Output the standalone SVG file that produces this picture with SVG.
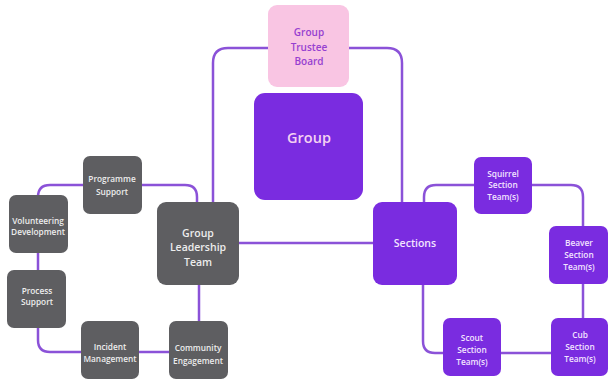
<svg xmlns="http://www.w3.org/2000/svg" width="613" height="382" viewBox="0 0 613 382">
  <style>
    .line { fill: none; stroke: #8B52D8; stroke-width: 2.5; }
    .grey { fill: #5E5E61; }
    .purple { fill: #7A2CE0; }
    .pink { fill: #F9C5E3; }
    text { font-family: "Open Sans", "Liberation Sans", sans-serif; font-weight: 600; text-anchor: middle; }
    .tg { fill: #EDEDED; }
    .tp { fill: #F3E4FF; }
    .tk { fill: #9640D0; font-size: 10px; }
    .s { font-size: 8.3px; }
    .m { font-size: 10.5px; }
    .l { font-size: 14.5px; fill: #F4D2F2; }
  </style>
  <rect width="613" height="382" fill="#FFFFFF"/>

  <g id="connectors">
    <!-- trustee board to leadership team and sections -->
    <path class="line" d="M268,48 H228 Q213,48 213,63 V202"/>
    <path class="line" d="M349,48 H387 Q402,48 402,63 V202"/>
    <!-- leadership team to sections -->
    <path class="line" d="M239,243 H373"/>
    <!-- leadership ring -->
    <path class="line" d="M83,185 H50 Q38,185 38,197"/>
    <path class="line" d="M142,185 H185 Q197,185 197,197 V202"/>
    <path class="line" d="M38,253 V270"/>
    <path class="line" d="M38,328 V340 Q38,352 50,352 H81"/>
    <path class="line" d="M139,352 H169"/>
    <path class="line" d="M199,285 V321"/>
    <!-- sections ring -->
    <path class="line" d="M474,185 H436 Q424,185 424,197 V202"/>
    <path class="line" d="M532,185 H571 Q583,185 583,197 V226"/>
    <path class="line" d="M583,284 V318"/>
    <path class="line" d="M551,353 H501"/>
    <path class="line" d="M423,285 V341 Q423,353 435,353 H443"/>
  </g>

  <g id="trustee-board">
    <rect class="pink" x="268" y="5" width="81" height="82" rx="9"/>
    <text class="tk" x="309" y="36">Group</text>
    <text class="tk" x="309" y="51">Trustee</text>
    <text class="tk" x="309" y="65">Board</text>
  </g>

  <g id="group">
    <rect class="purple" x="254" y="93" width="109" height="107" rx="11"/>
    <text class="l" x="309" y="143">Group</text>
  </g>

  <g id="leadership-team">
    <rect class="grey" x="157" y="202" width="82" height="83" rx="9"/>
    <text class="tg m" x="198" y="236.5">Group</text>
    <text class="tg m" x="198" y="251">Leadership</text>
    <text class="tg m" x="198" y="265.5">Team</text>
  </g>

  <g id="sections">
    <rect class="purple" x="373" y="202" width="84" height="83" rx="9"/>
    <text class="tp m" x="415" y="247">Sections</text>
  </g>

  <g id="programme-support">
    <rect class="grey" x="83" y="156" width="59" height="58" rx="7"/>
    <text class="tg s" x="112" y="182">Programme</text>
    <text class="tg s" x="112" y="195">Support</text>
  </g>

  <g id="volunteering-development">
    <rect class="grey" x="9" y="195" width="59" height="58" rx="7"/>
    <text class="tg s" x="38" y="224">Volunteering</text>
    <text class="tg s" x="38" y="235">Development</text>
  </g>

  <g id="process-support">
    <rect class="grey" x="7" y="270" width="59" height="58" rx="7"/>
    <text class="tg s" x="37" y="294">Process</text>
    <text class="tg s" x="37" y="305">Support</text>
  </g>

  <g id="incident-management">
    <rect class="grey" x="81" y="321" width="58" height="58" rx="7"/>
    <text class="tg s" x="110" y="350">Incident</text>
    <text class="tg s" x="110" y="362">Management</text>
  </g>

  <g id="community-engagement">
    <rect class="grey" x="169" y="321" width="59" height="58" rx="7"/>
    <text class="tg s" x="198" y="351">Community</text>
    <text class="tg s" x="198" y="364">Engagement</text>
  </g>

  <g id="squirrel-section">
    <rect class="purple" x="474" y="157" width="58" height="57" rx="7"/>
    <text class="tp s" x="503" y="177">Squirrel</text>
    <text class="tp s" x="503" y="188">Section</text>
    <text class="tp s" x="503" y="200">Team(s)</text>
  </g>

  <g id="beaver-section">
    <rect class="purple" x="549" y="226" width="59" height="58" rx="7"/>
    <text class="tp s" x="579" y="246">Beaver</text>
    <text class="tp s" x="579" y="258">Section</text>
    <text class="tp s" x="579" y="270">Team(s)</text>
  </g>

  <g id="cub-section">
    <rect class="purple" x="551" y="318" width="57" height="58" rx="7"/>
    <text class="tp s" x="580" y="338">Cub</text>
    <text class="tp s" x="580" y="350">Section</text>
    <text class="tp s" x="580" y="362">Team(s)</text>
  </g>

  <g id="scout-section">
    <rect class="purple" x="443" y="318" width="58" height="58" rx="7"/>
    <text class="tp s" x="472" y="341">Scout</text>
    <text class="tp s" x="472" y="353">Section</text>
    <text class="tp s" x="472" y="365">Team(s)</text>
  </g>
</svg>
